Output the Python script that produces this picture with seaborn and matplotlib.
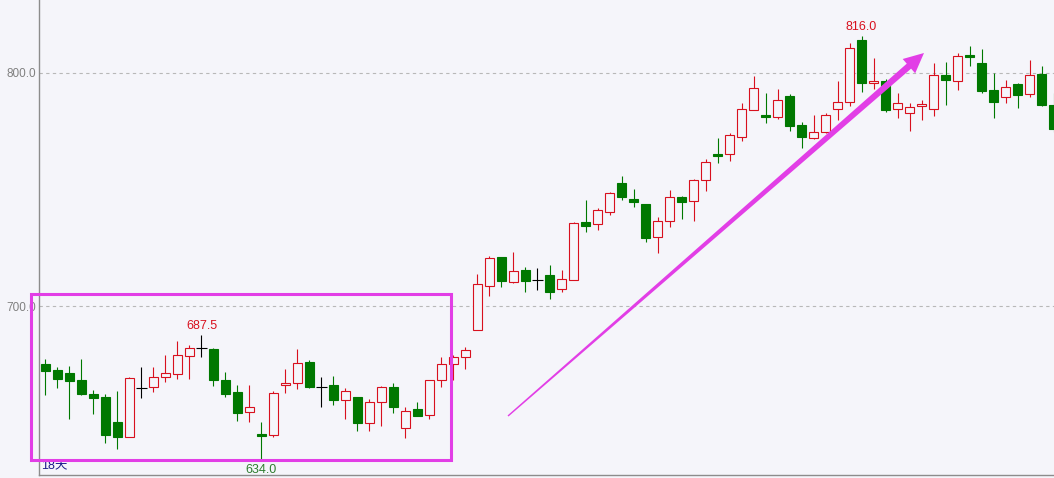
import numpy as np
import pandas as pd
import matplotlib
matplotlib.use("Agg")
import matplotlib.pyplot as plt
import seaborn as sns
from matplotlib.patches import Polygon, Rectangle

# daily candles (open, high, low, close)
opens = [675.1, 672.5, 671.1, 668.2, 662.1, 660.8, 650.2, 643.6, 664.9, 665.1,
         669.7, 671.0, 678.7, 681.8, 681.4, 668.2, 663.1, 654.4, 645.1, 644.6,
         666.0, 666.8, 676.0, 665.4, 666.1, 659.5, 660.9, 649.9, 658.7, 665.2,
         647.8, 655.8, 653.3, 668.1, 675.0, 678.0, 689.8, 708.7, 721.0, 710.4,
         715.5, 711.2, 713.3, 707.2, 711.3, 736.2, 735.1, 740.5, 752.7, 745.8,
         743.8, 729.4, 736.3, 746.8, 744.9, 753.9, 765.2, 765.1, 772.7, 784.0,
         782.0, 781.2, 790.1, 777.7, 772.2, 774.5, 784.7, 787.4, 814.2, 795.9,
         796.6, 784.4, 783.0, 786.0, 784.7, 799.3, 796.7, 807.9, 804.3, 792.7,
         789.6, 795.3, 790.9, 799.6, 786.3]
highs = [677.3, 673.7, 674.2, 677.3, 664.0, 662.2, 663.5, 669.7, 673.8, 673.7,
         678.8, 685.0, 683.1, 687.5, 681.8, 671.7, 666.0, 666.1, 650.1, 663.6,
         672.8, 681.4, 676.8, 669.7, 670.0, 664.7, 660.9, 660.2, 665.8, 667.1,
         656.8, 658.8, 668.1, 678.1, 678.8, 682.4, 713.6, 721.5, 721.0, 723.3,
         716.6, 716.2, 717.6, 715.5, 736.2, 745.5, 741.9, 749.1, 755.8, 750.2,
         743.8, 738.3, 749.8, 747.2, 754.6, 763.0, 772.0, 774.1, 787.0, 798.7,
         791.4, 793.1, 791.0, 778.8, 781.9, 783.0, 796.4, 812.7, 816.0, 806.3,
         797.4, 791.3, 787.0, 788.6, 804.2, 804.6, 808.4, 811.6, 810.3, 799.9,
         797.0, 795.6, 805.4, 803.0, 791.3]
lows = [661.8, 664.7, 651.6, 661.8, 653.6, 641.3, 638.5, 643.6, 660.4, 663.2,
        667.5, 668.7, 668.7, 678.2, 665.7, 660.8, 650.6, 650.1, 634.0, 643.9,
        662.5, 664.4, 664.7, 656.8, 657.5, 651.5, 646.4, 646.4, 648.5, 653.9,
        643.5, 652.9, 651.6, 665.4, 668.2, 672.8, 689.6, 704.4, 708.3, 710.0,
        706.1, 706.9, 703.1, 706.1, 711.2, 731.9, 732.6, 739.1, 745.5, 742.6,
        727.6, 722.9, 733.7, 737.5, 736.6, 749.5, 761.5, 762.4, 770.9, 784.0,
        778.4, 780.4, 775.0, 768.0, 771.8, 774.1, 779.8, 786.0, 792.0, 793.0,
        783.4, 780.8, 775.2, 779.8, 781.7, 786.3, 792.7, 803.1, 791.3, 780.5,
        787.0, 785.1, 789.8, 785.8, 774.8]
closes = [672.2, 668.8, 667.9, 662.2, 660.6, 644.8, 643.6, 669.0, 664.9, 669.7,
          671.1, 678.8, 681.8, 681.8, 668.4, 662.4, 654.2, 656.5, 644.2, 662.7,
          667.1, 675.4, 665.4, 665.4, 659.7, 663.5, 649.9, 658.8, 665.2, 656.8,
          654.9, 652.9, 668.1, 675.0, 678.0, 681.0, 709.3, 720.5, 710.9, 714.9,
          710.9, 711.2, 706.1, 711.5, 735.5, 734.5, 741.1, 748.4, 746.6, 744.8,
          729.3, 736.4, 746.8, 744.5, 754.0, 761.7, 764.5, 773.3, 784.4, 793.4,
          781.2, 788.3, 777.4, 772.7, 774.5, 781.8, 787.4, 810.6, 795.8, 796.5,
          784.1, 787.0, 785.3, 786.7, 799.1, 797.0, 807.4, 807.0, 792.2, 787.7,
          794.1, 790.7, 799.0, 786.3, 776.0]

yticks = [700, 800]
marks = [(13, "687.5", "high"), (68, "816.0", "high"), (18, "634.0", "low")]
period_label = "18天"

df = pd.DataFrame({"open": opens, "high": highs, "low": lows, "close": closes})
df["x"] = np.arange(len(df))

BG = "#f5f5fa"
RED = "#d8101e"
GREEN = "#007800"
MAGENTA = "#e23ee6"
W, H = 1054, 478

sns.set_style("white", {"axes.facecolor": BG, "figure.facecolor": BG})
plt.rcParams["font.family"] = ["Liberation Sans", "Noto Sans CJK SC", "DejaVu Sans"]

fig = plt.figure(figsize=(W / 100, H / 100), dpi=100)
ax = fig.add_axes([39 / W, 3 / H, 1 - 39 / W, 1 - 3 / H])

def colour(row):
    if row.close > row.open:
        return RED
    if row.close < row.open:
        return GREEN
    return "black"

df["colour"] = df.apply(colour, axis=1)

# wicks
ax.vlines(df["x"], df["low"], df["high"], colors=df["colour"], lw=0.8, zorder=2)

# bodies
bodies = df[df["colour"] != "black"]
face = np.where(bodies["colour"] == RED, BG, GREEN)
ax.bar(bodies["x"], (bodies["close"] - bodies["open"]).abs(),
       bottom=np.minimum(bodies["open"], bodies["close"]), width=0.82,
       color=face, edgecolor=bodies["colour"], lw=0.8, zorder=3)

# doji crosses
doji = df[df["colour"] == "black"]
ax.hlines(doji["open"], doji["x"] - 0.45, doji["x"] + 0.45, colors="black", lw=0.8, zorder=3)

# high / low labels
for i, txt, kind in marks:
    if kind == "high":
        ax.annotate(txt, xy=(i, df.loc[i, "high"]), xytext=(0, 2), textcoords="offset points",
                    ha="center", va="bottom", color=RED, fontsize=9)
    else:
        ax.annotate(txt, xy=(i, df.loc[i, "low"]), xytext=(0, -3), textcoords="offset points",
                    ha="center", va="top", color="#2e7d2e", fontsize=9)

ax.text(2 / 1015, 0.0175, period_label, transform=ax.transAxes, ha="left", va="center",
        color="#1c1c8a", fontsize=9)

ax.set_xlim(-0.54, 84.04)
ax.set_ylim(627.5, 831.3)
ax.set_xticks([])
ax.set_yticks(yticks)
ax.set_yticklabels([f"{v:.1f}" for v in yticks])
ax.tick_params(axis="y", length=0, pad=2, labelcolor="#808080", labelsize=8.5)
ax.yaxis.grid(True, linestyle=(0, (3, 3)), color="#b8b8b8", lw=0.8)
ax.xaxis.grid(False)
sns.despine(ax=ax, top=True, right=True)
for s in ["left", "bottom"]:
    ax.spines[s].set_color("#8c8c8c")
    ax.spines[s].set_linewidth(1)

# hand drawn highlights, in picture pixels
def fig_xy(x, y):
    return (x / W, 1 - y / H)

x0, y0 = fig_xy(30.7, 460.3)
x1, y1 = fig_xy(450.7, 293.7)
fig.patches.append(Rectangle((x0, y0), x1 - x0, y1 - y0, transform=fig.transFigure,
                             fill=False, edgecolor=MAGENTA, lw=2.2, zorder=5))

start = np.array([508.0, 416.0])
tip = np.array([924.0, 53.0])
u = (tip - start) / np.linalg.norm(tip - start)
n = np.array([-u[1], u[0]])
base = tip - u * 20
pts = [start + n * 0.7, base + n * 3.3, base + n * 9.5, tip,
       base - n * 9.5, base - n * 3.3, start - n * 0.7]
fig.patches.append(Polygon([fig_xy(*p) for p in pts], closed=True, transform=fig.transFigure,
                           facecolor=MAGENTA, edgecolor="none", zorder=5))

fig.savefig("out.png", dpi=100, facecolor=BG)
